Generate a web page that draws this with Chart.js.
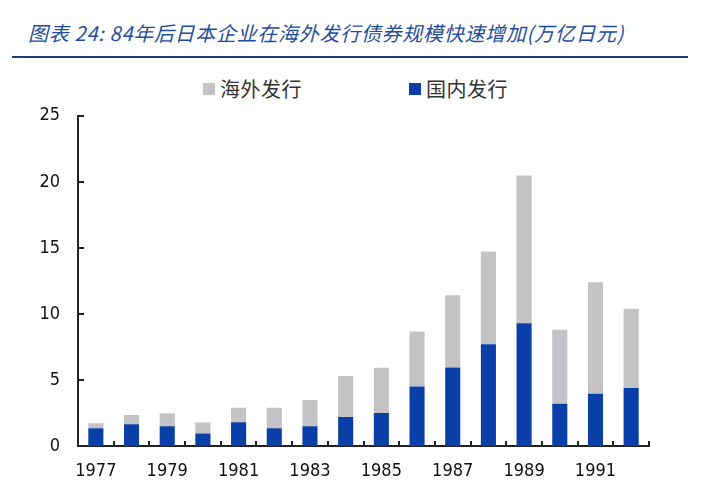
<!DOCTYPE html>
<html>
<head>
<meta charset="utf-8">
<script src="https://cdn.jsdelivr.net/npm/chart.js@4.4.0/dist/chart.umd.min.js"></script>
<style>
body{margin:0;background:#fff;width:704px;height:492px;position:relative;overflow:hidden;}
#title{position:absolute;left:28px;top:23px;font:italic 20px/20px "Noto Sans CJK SC";color:#1f4d9e;white-space:nowrap;letter-spacing:0.7px;}
#rule{position:absolute;left:12px;top:56px;width:676px;height:2px;background:#1d3c7c;}
#legend{position:absolute;top:78px;left:203px;display:flex;gap:107px;}
.item{display:flex;align-items:center;font:20px/22px "Noto Sans CJK SC";color:#333;letter-spacing:0.5px;}
.box{width:12px;height:12px;margin-right:5px;}
#wrap{position:absolute;left:0;top:87px;width:704px;height:405px;}
</style>
</head>
<body>
<div id="title">图表 24: 84年后日本企业在海外发行债券规模快速增加(万亿日元)</div>
<div id="rule"></div>
<div id="legend"></div>
<div id="wrap"><canvas id="chart"></canvas></div>
<script>
var years = ['1977','1978','1979','1980','1981','1982','1983','1984','1985','1986','1987','1988','1989','1990','1991','1992'];
// 万亿日元
var domestic = [1.35, 1.65, 1.5, 0.95, 1.8, 1.35, 1.5, 2.2, 2.5, 4.5, 5.95, 7.7, 9.3, 3.2, 3.95, 4.4];
var overseas = [0.37, 0.7, 0.98, 0.82, 1.1, 1.55, 1.98, 3.1, 3.43, 4.16, 5.46, 7.02, 11.18, 5.61, 8.45, 6.0];
var yTicks = [0, 5, 10, 15, 20, 25];

var blue = '#0b3fa8';
var grey = '#c3c3c6';
var axisColor = '#222';
var tickFont = {family: '"DejaVu Sans Condensed", "Liberation Sans", sans-serif', size: 18};

// small tick marks pointing into the plot
var innerTicks = {
	id: 'innerTicks',
	afterDraw: function(chart) {
		var ctx = chart.ctx;
		var x = chart.scales.x, y = chart.scales.y;
		ctx.save();
		ctx.strokeStyle = axisColor;
		ctx.lineWidth = 2;
		ctx.beginPath();
		y.ticks.forEach(function(t, i) {
			var py = Math.round(y.getPixelForTick(i));
			ctx.moveTo(y.right, py);
			ctx.lineTo(y.right + 6, py);
		});
		var step = (x.right - x.left) / years.length;
		for (var i = 1; i <= years.length; i++) {
			var px = Math.round(x.left + step * i);
			ctx.moveTo(px, x.top);
			ctx.lineTo(px, x.top - 5);
		}
		ctx.stroke();
		ctx.restore();
	}
};

var ctx = document.getElementById('chart').getContext('2d');
var myChart = new Chart(ctx, {
	type: 'bar',
	data: {
		labels: years,
		datasets: [
			{label: '国内发行', data: domestic, backgroundColor: blue, barPercentage: 0.9, categoryPercentage: 0.47},
			{label: '海外发行', data: overseas, backgroundColor: grey, barPercentage: 0.9, categoryPercentage: 0.47}
		]
	},
	options: {
		responsive: true,
		maintainAspectRatio: false,
		animation: false,
		layout: {padding: {left: 0, right: 55, top: 2, bottom: 0}},
		plugins: {
			legend: {display: false},
			tooltip: {enabled: false}
		},
		scales: {
			x: {
				stacked: true,
				grid: {display: false, drawTicks: false},
				border: {display: true, color: axisColor, width: 2},
				ticks: {
					autoSkip: false,
					maxRotation: 0,
					padding: 15,
					color: '#111',
					font: tickFont,
					callback: function(val, idx) { return idx % 2 === 0 ? years[idx] : ''; }
				},
				afterFit: function(scale) { scale.height = 46; }
			},
			y: {
				stacked: true,
				min: 0,
				max: 25,
				grid: {display: false, drawTicks: false},
				border: {display: true, color: axisColor, width: 2},
				afterBuildTicks: function(scale) {
					scale.ticks = yTicks.map(function(v) { return {value: v}; });
				},
				ticks: {padding: 18, color: '#111', font: tickFont},
				afterFit: function(scale) { scale.width = 78; }
			}
		}
	},
	plugins: [innerTicks]
});

// legend, overseas first as in the original
var legend = document.getElementById('legend');
myChart.data.datasets.slice().reverse().forEach(function(ds) {
	var item = document.createElement('div');
	item.className = 'item';
	item.innerHTML = '<span class="box" style="background:' + ds.backgroundColor + '"></span>' + ds.label;
	legend.appendChild(item);
});
</script>
</body>
</html>
